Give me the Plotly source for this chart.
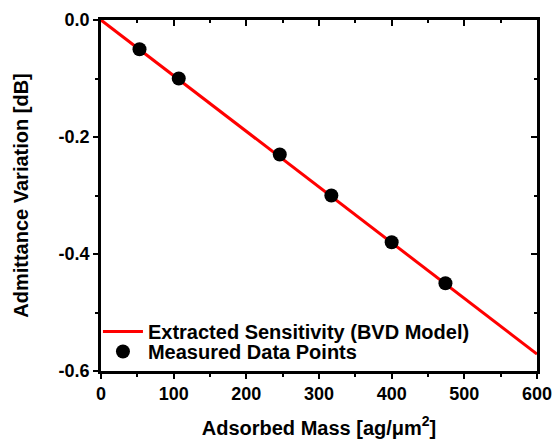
import plotly.graph_objects as go

# Data
mass_measured = [53, 107, 246, 317, 400, 474]
admittance_measured = [-0.05, -0.10, -0.23, -0.30, -0.38, -0.45]
mass_fit = [0, 600]
admittance_fit = [0.0, -0.571]

x_ticks = [0, 100, 200, 300, 400, 500, 600]
x_tick_text = ["0", "100", "200", "300", "400", "500", "600"]
y_ticks = [0.0, -0.2, -0.4, -0.6]
y_tick_text = ["0.0", "-0.2", "-0.4", "-0.6"]

FONT = "Liberation Sans, Arial, sans-serif"
LEG_FONT = dict(family=FONT, size=20, color="black", weight="bold")

fig = go.Figure()
fig.add_trace(go.Scatter(
    x=mass_fit, y=admittance_fit, mode="lines",
    line=dict(color="#ff0000", width=3),
    name="Extracted Sensitivity (BVD Model)", legend="legend",
))
fig.add_trace(go.Scatter(
    x=mass_measured, y=admittance_measured, mode="markers",
    marker=dict(color="black", size=14),
    name="Measured Data Points", legend="legend2",
))
# invisible traces to activate the mirrored (top/right) inward tick axes
fig.add_trace(go.Scatter(
    x=mass_fit, y=admittance_fit, mode="lines", xaxis="x2", yaxis="y",
    line=dict(width=0), opacity=0, showlegend=False, hoverinfo="skip",
))
fig.add_trace(go.Scatter(
    x=mass_fit, y=admittance_fit, mode="lines", xaxis="x", yaxis="y2",
    line=dict(width=0), opacity=0, showlegend=False, hoverinfo="skip",
))

axis_common = dict(
    showline=True, linecolor="black", linewidth=2.5,
    showgrid=False, zeroline=False, automargin=False,
    tickcolor="black", tickwidth=2, ticklen=5,
    tickfont=dict(family="Liberation Sans", size=18, color="black", weight="bold"),
)
mirror_common = dict(
    showticklabels=False, showline=False, showgrid=False, zeroline=False,
    ticks="inside", tickcolor="black", tickwidth=2, ticklen=6, automargin=False,
)

fig.update_layout(
    width=556, height=443,
    margin=dict(l=101, r=19, t=20, b=72),
    paper_bgcolor="white", plot_bgcolor="white",
    showlegend=True,
    legend=dict(
        x=-0.007, y=0.057, xanchor="left", yanchor="bottom",
        bgcolor="rgba(0,0,0,0)", font=LEG_FONT, itemwidth=40,
    ),
    legend2=dict(
        x=-0.007, y=0.0, xanchor="left", yanchor="bottom",
        bgcolor="rgba(0,0,0,0)", font=LEG_FONT, itemwidth=40,
    ),
    xaxis=dict(
        range=[0, 600], tickmode="array", tickvals=x_ticks,
        ticktext=["<b>%s</b>" % t for t in x_tick_text],
        ticks="outside", mirror=True,
        minor=dict(dtick=50, ticks="outside", ticklen=3, tickwidth=2, tickcolor="black"),
        title=dict(text="Adsorbed Mass [ag/μm<sup>2</sup>]",
                   font=dict(family=FONT, size=20, color="black", weight="bold"),
                   standoff=18),
        **axis_common,
    ),
    yaxis=dict(
        range=[-0.6, 0], tickmode="array", tickvals=y_ticks,
        ticktext=["<b>%s</b>" % t for t in y_tick_text],
        ticks="outside", mirror=True,
        minor=dict(dtick=0.1, ticks="outside", ticklen=3, tickwidth=2, tickcolor="black"),
        title=dict(text="Admittance Variation [dB]",
                   font=dict(family=FONT, size=20, color="black", weight="bold"),
                   standoff=25),
        **axis_common,
    ),
    xaxis2=dict(
        overlaying="x", side="top", anchor="y", range=[0, 600],
        tickmode="linear", tick0=0, dtick=100,
        minor=dict(dtick=50, ticks="inside", ticklen=3, tickwidth=2, tickcolor="black"),
        **mirror_common,
    ),
    yaxis2=dict(
        overlaying="y", side="right", anchor="x", range=[-0.6, 0],
        tickmode="linear", tick0=0, dtick=0.2,
        minor=dict(dtick=0.1, ticks="inside", ticklen=3, tickwidth=2, tickcolor="black"),
        **mirror_common,
    ),
)

fig.write_html("out.html", config={"displayModeBar": False},
               post_script="document.body.style.margin='0px';")
